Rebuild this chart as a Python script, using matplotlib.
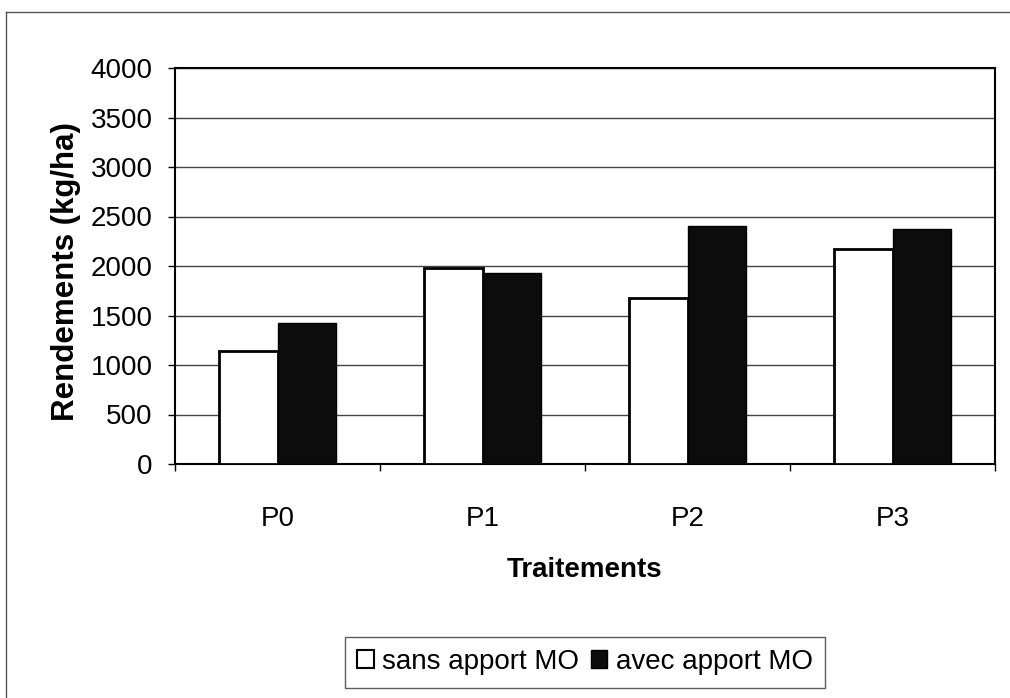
import matplotlib

matplotlib.use("Agg")
import matplotlib.pyplot as plt
from matplotlib.lines import Line2D
from matplotlib.patches import Patch
import numpy as np

# data
treatments = ["P0", "P1", "P2", "P3"]
sans_mo = [1140, 1975, 1675, 2170]
avec_mo = [1425, 1930, 2405, 2375]
series_labels = ["sans apport MO", "avec apport MO"]
y_ticks = [0, 500, 1000, 1500, 2000, 2500, 3000, 3500, 4000]

plt.rcParams["font.family"] = ["Liberation Sans", "DejaVu Sans"]

W, H = 1010, 698
fig = plt.figure(figsize=(W / 100, H / 100), dpi=100)
fig.patch.set_facecolor("white")

# plot area in pixels: left 175, right 995, top 68, bottom 464
ax = fig.add_axes([175 / W, 1 - 464 / H, (995 - 175) / W, (464 - 68) / H])

x = np.arange(len(treatments))
width = 1 / 3.5  # excel gap width 150%
ax.bar(x - width / 2, sans_mo, width=width, color="white", edgecolor="black", linewidth=2.0, zorder=3)
ax.bar(x + width / 2, avec_mo, width=width, color="#0c0c0c", edgecolor="black", linewidth=1.0, zorder=3)

ax.set_xlim(-0.5, len(treatments) - 0.5)
ax.set_ylim(0, 4000)
ax.set_yticks(y_ticks)
ax.set_yticklabels([str(v) for v in y_ticks], fontsize=20)
ax.yaxis.grid(True, color="#444444", linewidth=1.0, zorder=0)
ax.tick_params(axis="y", direction="out", length=5, width=1, pad=11)

ax.set_xticks(x)
ax.set_xticklabels(treatments, fontsize=20)
ax.tick_params(axis="x", which="major", length=0, pad=30)
ax.set_xticks(np.arange(len(treatments) + 1) - 0.5, minor=True)
ax.tick_params(axis="x", which="minor", direction="out", length=5, width=1)

for side in ["left", "right", "top", "bottom"]:
    ax.spines[side].set_color("black")
    ax.spines[side].set_linewidth(1.5)

ax.set_ylabel("Rendements (kg/ha)", fontsize=22.5, fontweight="bold")
ax.yaxis.set_label_coords(-0.115, 0.487)

fig.text(585 / W, 1 - 570 / H, "Traitements", fontsize=20, fontweight="bold", ha="center", va="center")

handles = [
    Patch(facecolor="white", edgecolor="black", linewidth=1.5),
    Patch(facecolor="#0c0c0c", edgecolor="black", linewidth=1.0),
]
leg = fig.legend(
    handles,
    series_labels,
    loc="center",
    bbox_to_anchor=(585 / W, 1 - 662 / H),
    ncol=2,
    fontsize=20,
    frameon=True,
    fancybox=False,
    handlelength=0.6,
    handleheight=0.6,
    handletextpad=0.3,
    columnspacing=0.4,
    borderpad=0.45,
    borderaxespad=0,
)
leg.get_frame().set_edgecolor("#333333")
leg.get_frame().set_linewidth(1.0)

# outer chart border (top and left edges visible in the scan)
fig.add_artist(Line2D([6 / W, 1.0], [1 - 12 / H, 1 - 12 / H], color="#555555", linewidth=1.0))
fig.add_artist(Line2D([6 / W, 6 / W], [0.0, 1 - 12 / H], color="#555555", linewidth=1.0))

fig.savefig("out.png", dpi=100)
